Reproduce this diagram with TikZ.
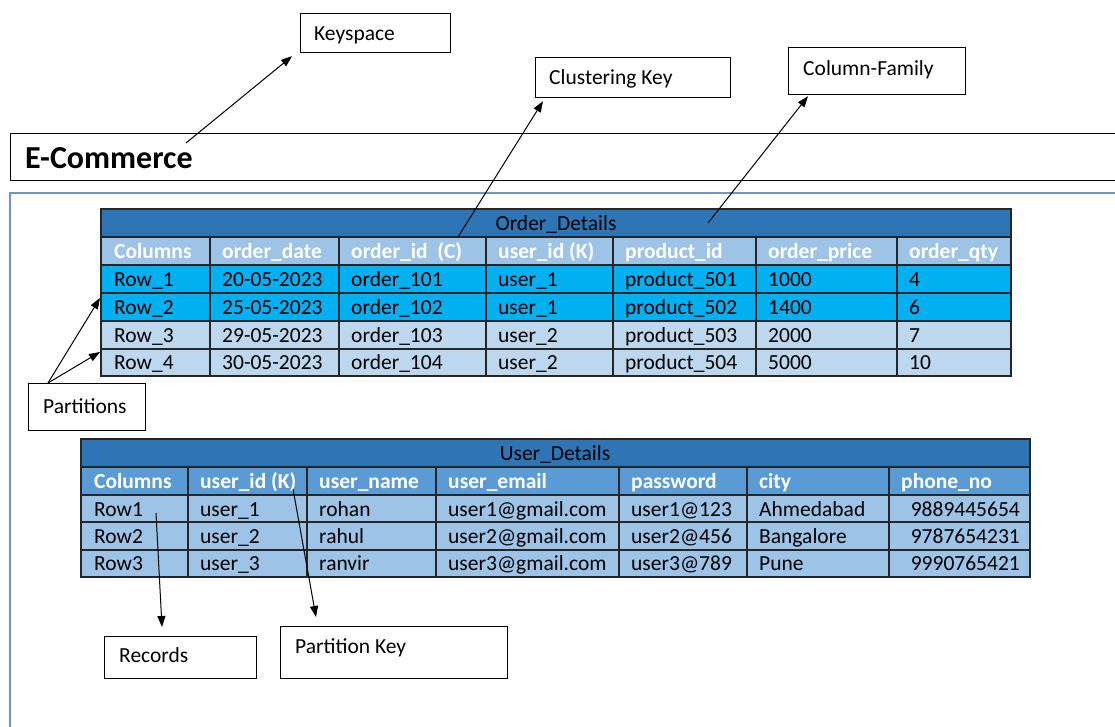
\documentclass[tikz,border=0pt]{standalone}
\usepackage{fontspec}
\setmainfont{Carlito}
\usetikzlibrary{arrows.meta,calc}

\definecolor{titleblue}{HTML}{2E75B6}
\definecolor{paleblue}{HTML}{9DC3E6}
\definecolor{cyanrow}{HTML}{00B0F0}
\definecolor{icyrow}{HTML}{BDD7EE}
\definecolor{midblue}{HTML}{5B9BD5}
\definecolor{frameblue}{HTML}{6F96C6}
\definecolor{gridgray}{HTML}{262626}

\newcommand\cellfont{\fontsize{21.5}{26}\selectfont}

\begin{document}
\begin{tikzpicture}[x=1pt,y=-1pt,
  cell/.style={anchor=base west,inner sep=0pt,font=\cellfont,text=black},
  cellr/.style={cell,anchor=base east},
  headcell/.style={cell,font=\cellfont\bfseries,text=white},
  titlecell/.style={anchor=base,inner sep=0pt,font=\cellfont,text=black},
  lbox/.style={draw=black,line width=1.2pt,inner sep=0pt,anchor=north west},
  ltext/.style={anchor=base west,inner sep=0pt,font=\cellfont},
  gridln/.style={draw=gridgray,line width=1.4pt},
  pointer/.style={-{Triangle[length=11pt,width=8pt]},line width=1pt,draw=black}]

\useasboundingbox (0,0) rectangle (1115,726);

% keyspace frame (open on the right and bottom)
\draw[frameblue,line width=1.3pt] (10,727) -- (10,193) -- (1117,193);

% keyspace name bar
\node[lbox,minimum width=1115pt,minimum height=47pt] (ecom) at (10,133) {};
\node[anchor=base west,inner sep=0pt,font=\fontsize{32}{38}\selectfont\bfseries] (ecom-t) at (25,168) {E-Commerce};

% ---------------- Order_Details ----------------
\fill[titleblue] (101,209) rectangle (1011,237);
\fill[paleblue]  (101,237) rectangle (1011,265);
\fill[cyanrow]   (101,265) rectangle (1011,321);
\fill[icyrow]    (101,321) rectangle (1011,376);
\draw[gridln] (101,209) rectangle (1011,376);
\foreach \y in {237,265,293,321,349} \draw[gridln] (101,\y) -- (1011,\y);
\foreach \x in {210,339,486,613,756,897} \draw[gridln] (\x,237) -- (\x,376);

\node[titlecell] (od-title) at (556,230) {Order\_Details};
\foreach \x/\t [count=\c] in {114/Columns,222/order\_date,351/{order\_id\ \ (C)},498/user\_id (K),625/product\_id,768/order\_price,909/order\_qty}
  \node[headcell] (od-h-\c) at (\x,258) {\t};
\foreach \x/\t [count=\c] in {114/Row\_1,222/20-05-2023,351/order\_101,498/user\_1,625/product\_501,768/1000,909/4}
  \node[cell] (od-1-\c) at (\x,286) {\t};
\foreach \x/\t [count=\c] in {114/Row\_2,222/25-05-2023,351/order\_102,498/user\_1,625/product\_502,768/1400,909/6}
  \node[cell] (od-2-\c) at (\x,314) {\t};
\foreach \x/\t [count=\c] in {114/Row\_3,222/29-05-2023,351/order\_103,498/user\_2,625/product\_503,768/2000,909/7}
  \node[cell] (od-3-\c) at (\x,342) {\t};
\foreach \x/\t [count=\c] in {114/Row\_4,222/30-05-2023,351/order\_104,498/user\_2,625/product\_504,768/5000,909/10}
  \node[cell] (od-4-\c) at (\x,369) {\t};

% ---------------- User_Details ----------------
\fill[titleblue] (81,439) rectangle (1030,467);
\fill[midblue]   (81,467) rectangle (1030,495);
\fill[paleblue]  (81,495) rectangle (1030,577);
\draw[gridln] (81,439) rectangle (1030,577);
\foreach \y in {467,495,522,550} \draw[gridln] (81,\y) -- (1030,\y);
\foreach \x in {188,307,436,619,747,889} \draw[gridln] (\x,467) -- (\x,577);

\node[titlecell] (ud-title) at (555,460) {User\_Details};
\foreach \x/\t [count=\c] in {94/Columns,200/user\_id (K),319/user\_name,448/user\_email,631/password,759/city,901/phone\_no}
  \node[headcell] (ud-h-\c) at (\x,488) {\t};
\foreach \x/\t [count=\c] in {94/Row1,200/user\_1,319/rohan,448/user1@gmail.com,631/user1@123,759/Ahmedabad}
  \node[cell] (ud-1-\c) at (\x,516) {\t};
\node[cellr] (ud-1-7) at (1020,516) {9889445654};
\foreach \x/\t [count=\c] in {94/Row2,200/user\_2,319/rahul,448/user2@gmail.com,631/user2@456,759/Bangalore}
  \node[cell] (ud-2-\c) at (\x,543) {\t};
\node[cellr] (ud-2-7) at (1020,543) {9787654231};
\foreach \x/\t [count=\c] in {94/Row3,200/user\_3,319/ranvir,448/user3@gmail.com,631/user3@789,759/Pune}
  \node[cell] (ud-3-\c) at (\x,570) {\t};
\node[cellr] (ud-3-7) at (1020,570) {9990765421};

% ---------------- callout boxes ----------------
\node[lbox,minimum width=150pt,minimum height=39pt] (keyspace) at (300,13) {};
\node[ltext] (keyspace-t) at (314,40) {Keyspace};

\node[lbox,minimum width=195pt,minimum height=40pt] (cluster) at (535,57) {};
\node[ltext] (cluster-t) at (549,84) {Clustering Key};

\node[lbox,minimum width=177pt,minimum height=47pt] (colfam) at (788,47) {};
\node[ltext] (colfam-t) at (803,75) {Column-Family};

\node[lbox,minimum width=117pt,minimum height=47pt] (parts) at (28,383) {};
\node[ltext] (parts-t) at (43,413) {Partitions};

\node[lbox,minimum width=152pt,minimum height=42pt] (records) at (104,636) {};
\node[ltext] (records-t) at (119,662) {Records};

\node[lbox,minimum width=227pt,minimum height=52pt] (pkey) at (280,626) {};
\node[ltext] (pkey-t) at (295,653) {Partition Key};

% ---------------- pointers ----------------
\coordinate (ks-src)  at (186,143);
\coordinate (ck-src)  at (458,237);
\coordinate (cf-src)  at (708,223);
\coordinate (pt-to1)  at (100,298);
\coordinate (pt-to2)  at (100,352);
\coordinate (rec-src) at (156,513);
\coordinate (pk-src)  at (293,489);

\draw[pointer] (ks-src) -- ($(keyspace.south west)+(-8,3)$);
\draw[pointer] (ck-src) -- ($(cluster.south west)+(8,3)$);
\draw[pointer] (cf-src) -- ($(colfam.south west)+(20,1)$);
\draw[pointer] ($(parts.north west)+(20,0)$) -- (pt-to1);
\draw[pointer] ($(parts.north west)+(20,0)$) -- (pt-to2);
\draw[pointer] (rec-src) -- ($(records.north west)+(58,-9)$);
\draw[pointer] (pk-src) -- ($(pkey.north west)+(36,-9)$);
\end{tikzpicture}
\end{document}
